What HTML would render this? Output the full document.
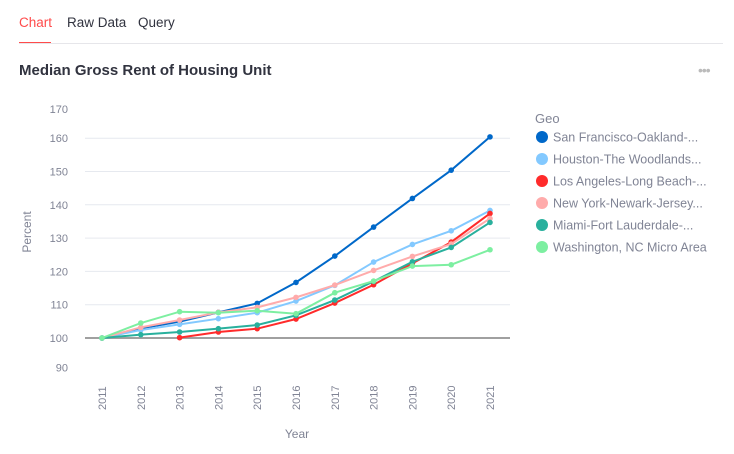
<!DOCTYPE html>
<html><head><meta charset="utf-8"><style>
body{margin:0;background:#fff;font-family:"Liberation Sans",sans-serif;}
.tab{position:absolute;top:15px;font-size:13.5px;color:#31333f;}
</style></head><body>
<div style="position:relative;width:734px;height:454px;overflow:hidden">
<div class="tab" style="left:19px;color:#ff4b4b">Chart</div>
<div class="tab" style="left:67px">Raw Data</div>
<div class="tab" style="left:138px">Query</div>
<div style="position:absolute;left:19px;top:42px;width:32px;height:2px;background:#ff4b4b"></div>
<div style="position:absolute;left:19px;top:43px;width:704px;height:1px;background:#e6e6ea"></div>
<div style="position:absolute;left:19px;top:62px;font-size:15px;font-weight:bold;color:#31333f">Median Gross Rent of Housing Unit</div>
<div style="position:absolute;left:698px;top:62px;font-size:14px;color:#bbb;letter-spacing:-1px">•••</div>
<svg id="c" width="734" height="454" style="position:absolute;left:0;top:0"></svg>
</div>
<script>
const years=[2011,2012,2013,2014,2015,2016,2017,2018,2019,2020,2021];
const names=["San Francisco-Oakland-...","Houston-The Woodlands...","Los Angeles-Long Beach-...","New York-Newark-Jersey...","Miami-Fort Lauderdale-...","Washington, NC Micro Area"];
const colors=["#0068c9","#83c9ff","#ff2b2b","#ffabab","#29b09d","#7defa1"];
const sf=[100,102.9,104.9,107.7,110.4,116.7,124.6,133.3,141.9,150.4,160.4];
const hou=[100,102.4,104.1,105.8,107.6,111.1,115.8,122.8,128.1,132.2,138.3];
const la=[null,null,100.1,101.8,102.8,105.7,110.5,116,122.4,128.8,137.4];
const ny=[100,103.2,105.4,107.7,109.2,112.2,115.9,120.3,124.5,128.2,135.9];
const mia=[100,101,101.8,102.8,103.9,106.8,111.4,117,122.9,127.2,134.7];
const wa=[100,104.5,107.9,107.6,108.2,107.3,113.6,117.1,121.6,122,126.5];
const series=[sf,hou,la,ny,mia,wa];
const yTicks=[90,100,110,120,130,140,150,160,170];
const ns="http://www.w3.org/2000/svg",svg=document.getElementById('c');
const X=i=>102+i*38.8, Y=v=>338-(v-100)*3.33;
function mk(t,a){const e=document.createElementNS(ns,t);for(const k in a)e.setAttribute(k,a[k]);svg.appendChild(e);return e;}
yTicks.forEach(v=>{
 if(v>100&&v<170){const g=mk('line',{x1:85,x2:510,y1:Y(v),y2:Y(v),stroke:'#e6e9ef'});
 
 }
 let yy=v==170?Y(v)+4:v==90?Y(v)-4:Y(v);
 const t=mk('text',{x:68,y:yy+4,'text-anchor':'end','font-size':11,fill:'#808495'});t.textContent=v;
 
 
});
const base=mk('line',{x1:85,x2:510,y1:Y(100),y2:Y(100),stroke:'#a0a0a0','stroke-width':2});


years.forEach((y,i)=>{const t=mk('text',{transform:`translate(${X(i)+4},410) rotate(-90)`,'font-size':11,fill:'#808495'});t.textContent=y;
 
 });
let t=mk('text',{x:297,y:438,'text-anchor':'middle','font-size':12,fill:'#808495'});t.textContent='Year';


t=mk('text',{transform:'translate(31,232) rotate(-90)','text-anchor':'middle','font-size':12,fill:'#808495'});t.textContent='Percent';


series.forEach((s,k)=>{
 const pts=[];s.forEach((v,i)=>{if(v!=null)pts.push(X(i)+','+Y(v));});
 const l=mk('polyline',{points:pts.join(' '),fill:'none',stroke:colors[k],'stroke-width':2});
 
 
 s.forEach((v,i)=>{if(v==null)return;const c=mk('circle',{cx:X(i),cy:Y(v),r:2.8,fill:colors[k]});
 
 });
});
t=mk('text',{x:535,y:123,'font-size':13,fill:'#808495'});t.textContent='Geo';


names.forEach((n,k)=>{const y=137+k*22;
 const c=mk('circle',{cx:542,cy:y,r:6,fill:colors[k]});
 
 
 const tx=mk('text',{x:553,y:y+4.5,'font-size':12.5,fill:'#808495'});tx.textContent=n;
 
 });
</script>
</body></html>
